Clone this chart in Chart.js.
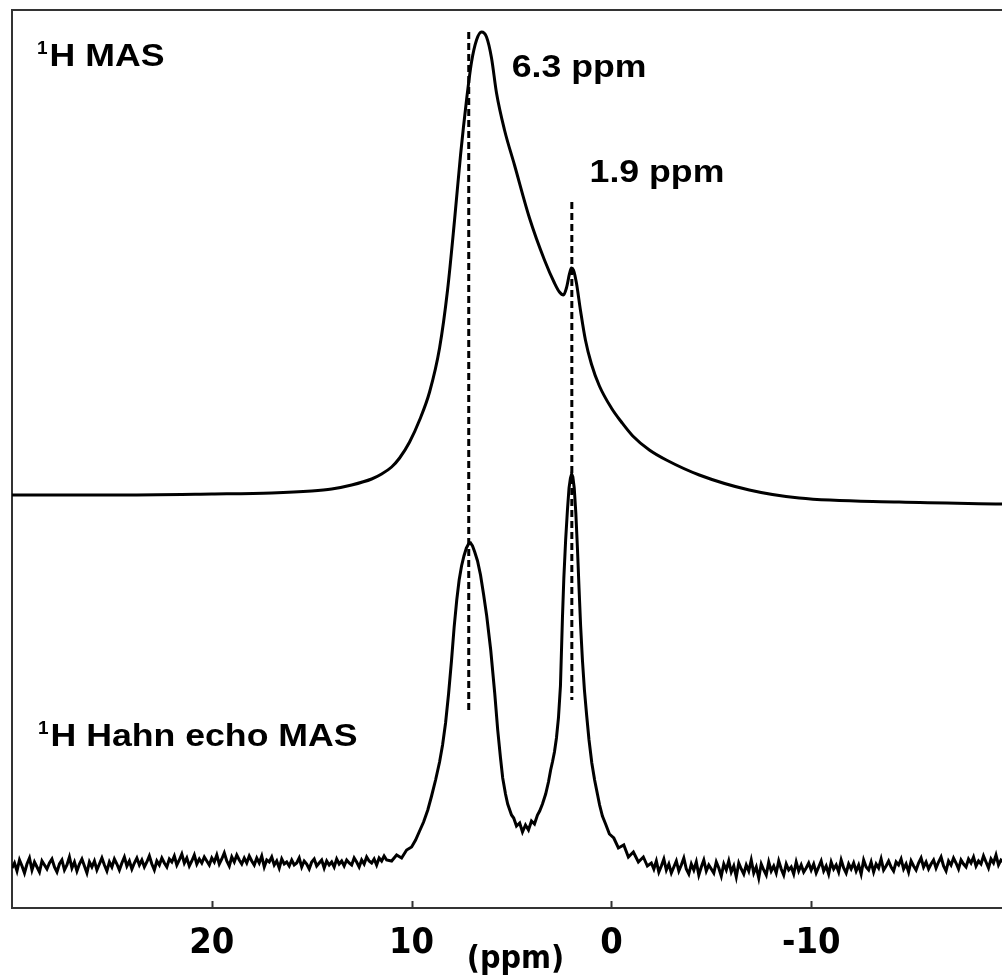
<!DOCTYPE html>
<html>
<head>
<meta charset="utf-8">
<script src="https://cdn.jsdelivr.net/npm/chart.js@4"></script>
<style>
  html, body { margin: 0; padding: 0; background: #fff; }
  canvas { display: block; }
</style>
</head>
<body>
<canvas id="spectrum" width="1002" height="978"></canvas>
<script>
// 1H MAS spectrum, chemical shift (ppm) / intensity (a.u.)
const masPpm = [30, 25, 20, 17, 15, 14, 13, 12, 11.5, 11,
  10.6, 10.1, 9.6, 9.1, 8.6, 8.2, 7.85, 7.55, 7.25, 7.0,
  6.75, 6.5, 6.25, 6.0, 5.75, 5.35, 4.85, 4.1, 3.35, 2.85,
  2.6, 2.4, 2.25, 2.1, 2.0, 1.9, 1.75, 1.55, 1.3, 1.0,
  0.6, 0.0, -0.5, -1.07, -1.9, -2.75, -4.4, -6.9, -9.4, -14.4, -19.6];
const masInt = [413, 413, 414, 415, 417, 419, 423, 429, 434, 441,
  450, 466, 488, 516, 560, 618, 688, 753, 808, 846,
  868, 876, 871, 850, 815, 778, 743, 690, 648, 625,
  616, 613, 620, 634, 640, 638, 625, 598, 568, 544,
  522, 500, 486, 472, 458, 448, 433, 418, 410, 406, 404];

// 1H Hahn echo MAS spectrum: left baseline, peak region, right baseline
const echoPpmLeft = [
  30, 29.875, 29.75, 29.625, 29.5, 29.375, 29.25, 29.125, 29, 28.875, 28.75, 28.625, 28.5, 28.375, 28.25, 28.125,
  28, 27.875, 27.75, 27.625, 27.5, 27.375, 27.25, 27.125, 27, 26.875, 26.75, 26.625, 26.5, 26.375, 26.25, 26.125,
  26, 25.875, 25.75, 25.625, 25.5, 25.375, 25.25, 25.125, 25, 24.875, 24.75, 24.625, 24.5, 24.375, 24.25, 24.125,
  24, 23.875, 23.75, 23.625, 23.5, 23.375, 23.25, 23.125, 23, 22.875, 22.75, 22.625, 22.5, 22.375, 22.25, 22.125,
  22, 21.875, 21.75, 21.625, 21.5, 21.375, 21.25, 21.125, 21, 20.875, 20.75, 20.625, 20.5, 20.375, 20.25, 20.125,
  20, 19.875, 19.75, 19.625, 19.5, 19.375, 19.25, 19.125, 19, 18.875, 18.75, 18.625, 18.5, 18.375, 18.25, 18.125,
  18, 17.875, 17.75, 17.625, 17.5, 17.375, 17.25, 17.125, 17, 16.875, 16.75, 16.625, 16.5, 16.375, 16.25, 16.125,
  16, 15.875, 15.75, 15.625, 15.5, 15.375, 15.25, 15.125, 15, 14.875, 14.75, 14.625, 14.5, 14.375, 14.25, 14.125,
  14, 13.875, 13.75, 13.625, 13.5, 13.375, 13.25, 13.125, 13, 12.875, 12.75, 12.625, 12.5, 12.375, 12.25, 12.125,
  12, 11.875, 11.75, 11.625, 11.5, 11.375, 11.25];
const echoIntLeft = [
  40, 45, 37, 48, 42, 35, 44, 50, 38, 46, 41, 36, 47, 43, 39, 45,
  49, 41, 36, 44, 48, 38, 43, 51, 40, 46, 37, 44, 49, 42, 35, 46,
  41, 47, 38, 44, 50, 43, 37, 46, 41, 49, 44, 38, 45, 51, 42, 47,
  39, 45, 50, 43, 48, 41, 46, 52, 44, 38, 47, 43, 50, 45, 41, 49,
  46, 52, 43, 48, 54, 45, 50, 42, 47, 53, 44, 49, 45, 51, 47, 43,
  50, 46, 53, 44, 49, 55, 47, 42, 51, 46, 53, 48, 44, 50, 45, 52,
  47, 43, 50, 45, 52, 41, 48, 46, 51, 43, 47, 40, 49, 44, 46, 42,
  48, 43, 45, 50, 41, 47, 44, 39, 46, 49, 42, 45, 48, 40, 47, 43,
  46, 41, 49, 44, 47, 42, 48, 45, 43, 50, 46, 41, 48, 44, 51, 47,
  45, 49, 43, 50, 47, 52, 48];

const echoPpmPeaks = [
  11, 10.75, 10.5, 10.25, 10, 9.8, 9.6, 9.4, 9.19, 9.0, 8.8, 8.6, 8.45, 8.3, 8.15, 8.0, 7.87, 7.74, 7.62, 7.5,
  7.38, 7.26, 7.15, 7.05, 6.95, 6.84, 6.7, 6.55, 6.4, 6.24, 6.04, 5.84, 5.69, 5.55, 5.44, 5.3, 5.19, 5.0, 4.89, 4.75,
  4.59, 4.45, 4.3, 4.15, 4.0, 3.85, 3.7, 3.59, 3.45, 3.29, 3.15, 3.04, 2.95, 2.85, 2.75, 2.65, 2.55, 2.45, 2.38, 2.29,
  2.2, 2.12, 2.05, 1.99, 1.93, 1.86, 1.78, 1.7, 1.62, 1.54, 1.45, 1.35, 1.24, 1.12, 0.98, 0.84, 0.7, 0.59, 0.45, 0.29,
  0.1, -0.12, -0.35, -0.62, -0.85, -1.1, -1.35, -1.6, -1.8];
const echoIntPeaks = [
  47, 53, 50, 58, 61, 68, 77, 86, 98, 112, 128, 146, 163, 185, 214, 248, 281, 308, 328, 342,
  352, 360, 364, 365, 362, 356, 347, 333, 314, 292, 258, 215, 178, 150, 130, 114, 104, 93, 90, 82,
  85, 76, 83, 78, 87, 84, 93, 97, 104, 114, 126, 138, 146, 156, 170, 190, 222, 290, 330, 368,
  398, 420, 430, 434, 431, 420, 395, 360, 320, 282, 248, 218, 193, 168, 145, 128, 114, 103, 92, 84,
  74, 70, 60, 63, 51, 56, 46, 51, 42];

const echoPpmRight = [
  -2, -2.125, -2.25, -2.375, -2.5, -2.625, -2.75, -2.875, -3, -3.125, -3.25, -3.375, -3.5, -3.625, -3.75, -3.875,
  -4, -4.125, -4.25, -4.375, -4.5, -4.625, -4.75, -4.875, -5, -5.125, -5.25, -5.375, -5.5, -5.625, -5.75, -5.875,
  -6, -6.125, -6.25, -6.375, -6.5, -6.625, -6.75, -6.875, -7, -7.125, -7.25, -7.375, -7.5, -7.625, -7.75, -7.875,
  -8, -8.125, -8.25, -8.375, -8.5, -8.625, -8.75, -8.875, -9, -9.125, -9.25, -9.375, -9.5, -9.625, -9.75, -9.875,
  -10, -10.125, -10.25, -10.375, -10.5, -10.625, -10.75, -10.875, -11, -11.125, -11.25, -11.375, -11.5, -11.625, -11.75, -11.875,
  -12, -12.125, -12.25, -12.375, -12.5, -12.625, -12.75, -12.875, -13, -13.125, -13.25, -13.375, -13.5, -13.625, -13.75, -13.875,
  -14, -14.125, -14.25, -14.375, -14.5, -14.625, -14.75, -14.875, -15, -15.125, -15.25, -15.375, -15.5, -15.625, -15.75, -15.875,
  -16, -16.125, -16.25, -16.375, -16.5, -16.625, -16.75, -16.875, -17, -17.125, -17.25, -17.375, -17.5, -17.625, -17.75, -17.875,
  -18, -18.125, -18.25, -18.375, -18.5, -18.625, -18.75, -18.875, -19, -19.125, -19.25, -19.375, -19.5, -19.625, -19.75, -19.875];
const echoIntRight = [
  45, 39, 47, 36, 42, 49, 38, 44, 35, 41, 47, 37, 43, 50, 39, 34,
  44, 38, 46, 33, 41, 48, 37, 43, 39, 35, 46, 40, 32, 44, 38, 47,
  36, 42, 31, 45, 39, 34, 43, 37, 48, 35, 41, 30, 44, 38, 33, 46,
  37, 42, 35, 47, 39, 33, 44, 38, 41, 34, 46, 37, 43, 36, 40, 45,
  38, 44, 35, 41, 47, 37, 42, 34, 46, 39, 43, 36, 48, 40, 35, 44,
  39, 45, 37, 43, 34, 48, 41, 38, 46, 36, 44, 40, 49, 38, 42, 47,
  41, 37, 46, 43, 49, 39, 44, 36, 47, 42, 38, 45, 50, 41, 46, 39,
  44, 48, 40, 46, 51, 42, 37, 47, 43, 50, 45, 39, 48, 44, 41, 49,
  45, 51, 42, 47, 44, 52, 46, 40, 49, 45, 53, 43, 48, 46, 50, 44];

// dashed peak markers
const markerPpm = [7.14, 1.98];
const markerTop = [876, 706];
const markerBottom = [195, 208];

const xTicks = [20, 10, 0, -10];

const toPoints = (xs, ys) => xs.map((x, i) => ({ x, y: ys[i] }));

const BOLD = '"Liberation Sans", Arial, sans-serif';
const NARROW = '"Liberation Sans Narrow", "Arial Narrow", "DejaVu Sans Condensed", Arial, sans-serif';
const AXIS_COLOR = '#333';

// text placed in data coordinates (ppm, a.u.)
const annotations = [
  { sup: '1', text: 'H MAS', ppm: 28.75, y: 842 },
  { sup: '1', text: 'H Hahn echo MAS', ppm: 28.7, y: 162 },
  { text: '6.3 ppm', ppm: 4.99, y: 831 },
  { text: '1.9 ppm', ppm: 1.09, y: 726 },
];

const annotationPlugin = {
  id: 'annotationPlugin',
  afterDraw(chart) {
    const { ctx, chartArea, scales } = chart;
    ctx.save();
    ctx.fillStyle = '#000';
    ctx.textBaseline = 'alphabetic';
    ctx.textAlign = 'left';
    annotations.forEach((a) => {
      let px = scales.x.getPixelForValue(a.ppm);
      const py = scales.y.getPixelForValue(a.y);
      if (a.sup) {
        ctx.font = `bold 19px ${BOLD}`;
        ctx.fillText(a.sup, px, py - 12);
        px += ctx.measureText(a.sup).width + 2;
      }
      ctx.save();
      ctx.translate(px, py);
      ctx.scale(1.15, 1);
      ctx.font = `bold 31px ${BOLD}`;
      ctx.fillText(a.text, 0, 0);
      ctx.restore();
    });

    // axis title sits between the tick labels
    ctx.textAlign = 'center';
    ctx.font = `bold 32px ${NARROW}`;
    ctx.fillText('(ppm)', scales.x.getPixelForValue(4.8), chartArea.bottom + 60);

    // inward tick marks
    ctx.strokeStyle = AXIS_COLOR;
    ctx.lineWidth = 2;
    scales.x.ticks.forEach((t) => {
      const px = Math.round(scales.x.getPixelForValue(t.value)) + 0.5;
      ctx.beginPath();
      ctx.moveTo(px, chartArea.bottom);
      ctx.lineTo(px, chartArea.bottom - 7);
      ctx.stroke();
    });
    ctx.restore();
  },
};

const markerSets = markerPpm.map((p, i) => ({
  data: [{ x: p, y: markerTop[i] }, { x: p, y: markerBottom[i] }],
  borderColor: '#000',
  borderWidth: 3,
  borderDash: [7, 4],
  pointRadius: 0,
}));

const echoPoints = [
  ...toPoints(echoPpmLeft, echoIntLeft),
  ...toPoints(echoPpmPeaks, echoIntPeaks),
  ...toPoints(echoPpmRight, echoIntRight),
];

new Chart(document.getElementById('spectrum'), {
  type: 'line',
  data: {
    datasets: [
      {
        data: toPoints(masPpm, masInt),
        borderColor: '#000',
        borderWidth: 3,
        pointRadius: 0,
        cubicInterpolationMode: 'monotone',
      },
      {
        data: echoPoints,
        borderColor: '#000',
        borderWidth: 3,
        pointRadius: 0,
        tension: 0,
      },
      ...markerSets,
    ],
  },
  options: {
    responsive: false,
    animation: false,
    devicePixelRatio: 1,
    layout: { padding: { left: 12, top: 10, right: 0, bottom: 0 } },
    plugins: {
      legend: { display: false },
      tooltip: { enabled: false },
    },
    scales: {
      x: {
        type: 'linear',
        position: 'bottom',
        reverse: true,
        min: -19.55,
        max: 30,
        afterBuildTicks: (scale) => {
          scale.ticks = xTicks.map((v) => ({ value: v }));
        },
        afterFit: (scale) => {
          scale.height = 70;
        },
        ticks: {
          color: '#000',
          padding: 14,
          maxRotation: 0,
          autoSkip: false,
          font: { family: NARROW, size: 36, weight: 'bold' },
        },
        grid: { display: false, drawTicks: false },
        border: { display: true, color: AXIS_COLOR, width: 2 },
      },
      xTop: {
        type: 'linear',
        position: 'top',
        reverse: true,
        min: -19.55,
        max: 30,
        ticks: { display: false },
        grid: { display: false, drawTicks: false },
        border: { display: true, color: AXIS_COLOR, width: 2 },
        afterFit: (scale) => {
          scale.height = 0;
        },
      },
      y: {
        type: 'linear',
        min: 0,
        max: 898,
        ticks: { display: false },
        grid: { display: false, drawTicks: false },
        border: { display: true, color: AXIS_COLOR, width: 2 },
        afterFit: (scale) => {
          scale.width = 0;
        },
      },
    },
  },
  plugins: [annotationPlugin],
});
</script>
</body>
</html>
